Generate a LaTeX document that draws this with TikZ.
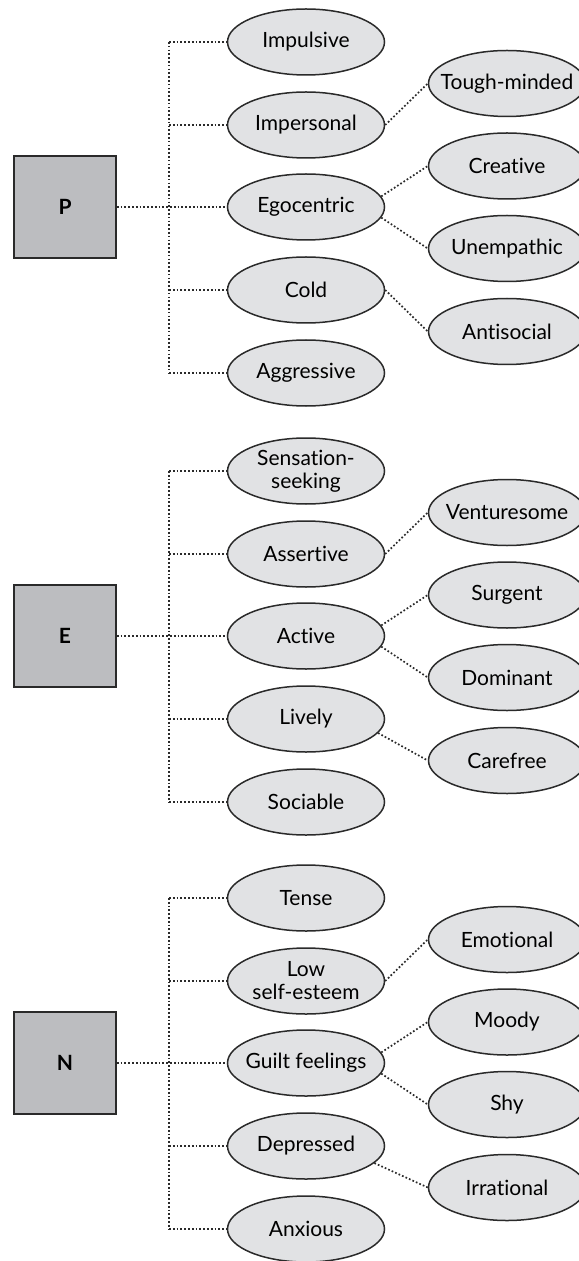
\documentclass[tikz,border=0pt]{standalone}
\usepackage{fontspec}
\setmainfont{Lato}[Ligatures=NoCommon]
\usetikzlibrary{shapes.geometric}
\definecolor{boxgray}{HTML}{BCBDC0}
\definecolor{ovalgray}{HTML}{E1E2E4}
\definecolor{inkgray}{HTML}{2A2A2A}
\tikzset{
  factor/.style={draw=inkgray, fill=boxgray, line width=0.8pt, minimum size=51pt, inner sep=0pt, font=\fontsize{10.5}{12}\selectfont\bfseries},
  trait/.style={ellipse, draw=inkgray, fill=ovalgray, line width=0.75pt, minimum width=78.5pt, minimum height=33pt, inner xsep=-20pt, inner ysep=-8pt, align=center, font=\fontsize{10.5}{11.5}\selectfont},
  link/.style={draw=inkgray, line width=0.85pt, dash pattern=on 0.85pt off 1.05pt}
}

\begin{document}
\begin{tikzpicture}[x=0.5pt, y=-0.5pt]
\useasboundingbox (0,0) rectangle (578,1261);

% P
\node[factor] (P) at (65,207) {P};
\coordinate (Pj) at (169,207);
\node[trait] (impulsive) at (306,42) {Impulsive};
\node[trait] (impersonal) at (306,125) {Impersonal};
\node[trait] (egocentric) at (306,207) {Egocentric};
\node[trait] (cold) at (306,290) {Cold};
\node[trait] (aggressive) at (306,373) {Aggressive};
\node[trait] (toughminded) at (507,83.5) {Tough-minded};
\node[trait] (creative) at (507,166) {Creative};
\node[trait] (unempathic) at (507,248.5) {Unempathic};
\node[trait] (antisocial) at (507,331.5) {Antisocial};
\draw[link] (P) -- (egocentric);
\draw[link] (Pj |- impulsive) -- (Pj |- aggressive);
\draw[link] (Pj |- impulsive) -- (impulsive);
\draw[link] (Pj |- impersonal) -- (impersonal);
\draw[link] (Pj |- cold) -- (cold);
\draw[link] (Pj |- aggressive) -- (aggressive);
\draw[link] (impersonal.east) -- (toughminded.west);
\draw[link] (egocentric.8) -- (creative.west);
\draw[link] (egocentric.-8) -- (unempathic.west);
\draw[link] (cold.east) -- (antisocial.west);

% E
\node[factor] (E) at (65,636) {E};
\coordinate (Ej) at (169,636);
\node[trait] (sensation) at (306,471) {Sensation-\\seeking};
\node[trait] (assertive) at (306,554) {Assertive};
\node[trait] (active) at (306,636) {Active};
\node[trait] (lively) at (306,719) {Lively};
\node[trait] (sociable) at (306,802) {Sociable};
\node[trait] (venturesome) at (507,512.5) {Venturesome};
\node[trait] (surgent) at (507,595) {Surgent};
\node[trait] (dominant) at (507,677.5) {Dominant};
\node[trait] (carefree) at (507,760.5) {Carefree};
\draw[link] (E) -- (active);
\draw[link] (Ej |- sensation) -- (Ej |- sociable);
\draw[link] (Ej |- sensation) -- (sensation);
\draw[link] (Ej |- assertive) -- (assertive);
\draw[link] (Ej |- lively) -- (lively);
\draw[link] (Ej |- sociable) -- (sociable);
\draw[link] (assertive.east) -- (venturesome.west);
\draw[link] (active.8) -- (surgent.west);
\draw[link] (active.-8) -- (dominant.west);
\draw[link] (lively.-11) -- (carefree.west);

% N
\node[factor] (N) at (65,1063) {N};
\coordinate (Nj) at (169,1063);
\node[trait] (tense) at (306,898) {Tense};
\node[trait] (lowesteem) at (306,981) {Low\\self-esteem};
\node[trait] (guilt) at (306,1063) {Guilt feelings};
\node[trait] (depressed) at (306,1146) {Depressed};
\node[trait] (anxious) at (306,1229) {Anxious};
\node[trait] (emotional) at (507,939.5) {Emotional};
\node[trait] (moody) at (507,1022) {Moody};
\node[trait] (shy) at (507,1104.5) {Shy};
\node[trait] (irrational) at (507,1187.5) {Irrational};
\draw[link] (N) -- (guilt);
\draw[link] (Nj |- tense) -- (Nj |- anxious);
\draw[link] (Nj |- tense) -- (tense);
\draw[link] (Nj |- lowesteem) -- (lowesteem);
\draw[link] (Nj |- depressed) -- (depressed);
\draw[link] (Nj |- anxious) -- (anxious);
\draw[link] (lowesteem.east) -- (emotional.west);
\draw[link] (guilt.8) -- (moody.west);
\draw[link] (guilt.-8) -- (shy.west);
\draw[link] (depressed.-14) -- (irrational.west);
\end{tikzpicture}
\end{document}
